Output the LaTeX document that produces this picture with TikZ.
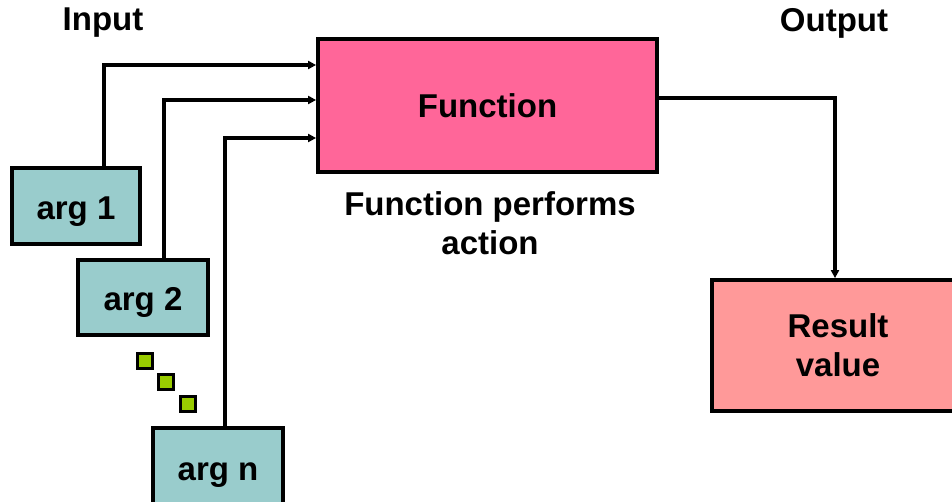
\documentclass[tikz,border=0pt]{standalone}
\usepackage{fontspec}
\setmainfont{Liberation Sans}
\usetikzlibrary{arrows.meta}

\tikzset{
    box/.style={draw=black, line width=3.8pt, inner sep=0pt, align=center,
        font=\fontsize{33}{39}\selectfont\bfseries},
    argbox/.style={box, fill=argcol, text height=27pt, text depth=0pt},
    link/.style={draw=black, line width=3.2pt},
    into/.style={link, -{Triangle[length=8pt,width=8pt]}},
    dot/.style={draw=black, line width=2.4pt, fill=dotcol, minimum size=15pt, inner sep=0pt},
    label/.style={font=\fontsize{33}{39}\selectfont\bfseries, align=center},
}
\definecolor{argcol}{HTML}{99CCCC}
\definecolor{funcol}{HTML}{FF6699}
\definecolor{rescol}{HTML}{FF9999}
\definecolor{dotcol}{HTML}{99CC00}

\begin{document}
\begin{tikzpicture}[x=1pt,y=1pt]
        \useasboundingbox (0,0) rectangle (952,501);

        \node[box, fill=funcol, minimum width=339pt, minimum height=133pt] (func) at (487.5,395.5) {Function};
        \node[argbox, minimum width=128pt, minimum height=76pt] (arg1) at (76,295) {arg 1};
        \node[argbox, minimum width=130pt, minimum height=75pt] (arg2) at (143,203.5) {arg 2};
        \node[argbox, minimum width=130pt, minimum height=77pt] (argn) at (218,34.5) {arg n};
        \node[box, fill=rescol, minimum width=252pt, minimum height=131pt] (result) at (838,155.5) {Result\\value};

        \node[label] (input) at (103,478) {Input};
        \node[label] (output) at (834,478) {Output};
        \node[label] (action) at (490,278) {Function performs\\action};

        \node[dot] (dot1) at (145,140) {};
        \node[dot] (dot2) at (166,119) {};
        \node[dot] (dot3) at (188,97) {};

        % inputs
        \draw[into] ([xshift=28pt]arg1.north) |- ([yshift=40.5pt]func.west);
        \draw[into] ([xshift=21pt]arg2.north) |- ([yshift=5.5pt]func.west);
        \draw[into] ([xshift=7pt]argn.north) |- ([yshift=-32.5pt]func.west);

        % output
        \draw[into] ([yshift=7.5pt]func.east) -| ([xshift=-3pt]result.north);
    \end{tikzpicture}
\end{document}
